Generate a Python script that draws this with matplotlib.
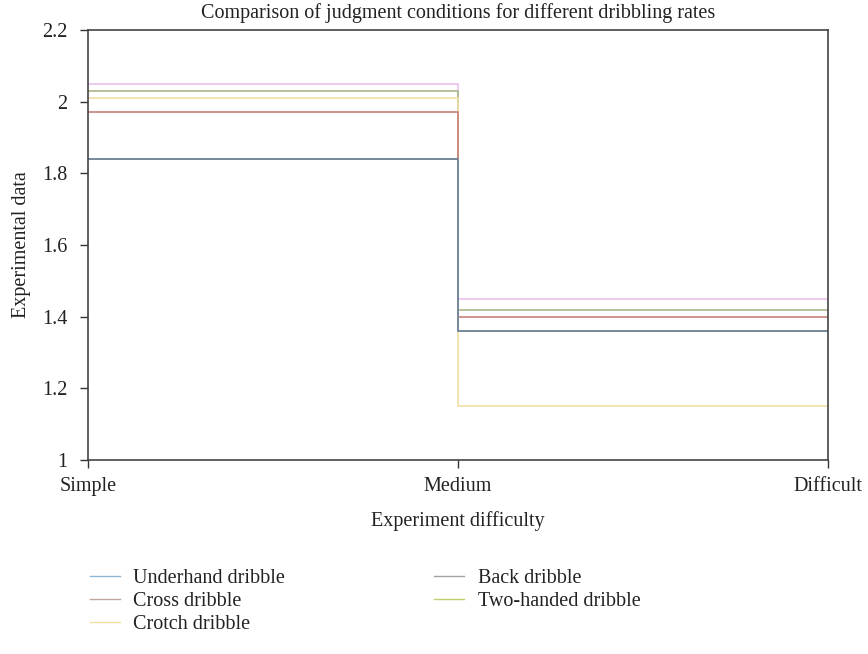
import matplotlib
matplotlib.use('Agg')
import matplotlib.pyplot as plt

plt.rcParams['font.family'] = ['Liberation Serif', 'DejaVu Serif']

levels = ['Simple', 'Medium', 'Difficult']
underhand = [1.84, 1.36, 1.36]
cross = [1.97, 1.40, 1.40]
crotch = [2.01, 1.15, 1.15]
back = [1.84, 1.36, 1.36]
two_handed = [2.03, 1.42, 1.42]
other = [2.05, 1.45, 1.45]

fs = 14.5

fig = plt.figure(figsize=(8.68, 6.54), dpi=100)
ax = fig.add_axes([0.1014, 0.2966, 0.852, 0.6575])

x = range(len(levels))
ax.step(x, other, where='post', color='#ecc0ec', lw=1.2)
ax.step(x, two_handed, where='post', color='#a8b888', lw=1.2)
ax.step(x, crotch, where='post', color='#f2dfa6', lw=1.2)
ax.step(x, cross, where='post', color='#c8807a', lw=1.2)
ax.step(x, underhand, where='post', color='#8fb8d8', lw=1.2)
ax.step(x, back, where='post', color='#708090', lw=1.2)

ax.set_xlim(0, 2)
ax.set_ylim(1, 2.2)
ax.set_xticks(list(x))
ax.set_xticklabels(levels, fontsize=fs)
ax.set_yticks([1, 1.2, 1.4, 1.6, 1.8, 2, 2.2])
ax.set_yticklabels(['1', '1.2', '1.4', '1.6', '1.8', '2', '2.2'], fontsize=fs)
ax.tick_params(direction='out', length=6, width=1, colors='#333333', labelcolor='#222222')
ax.tick_params(axis='y', pad=9)
ax.tick_params(axis='x', pad=6)
for s in ax.spines.values():
    s.set_color('#444444')
    s.set_linewidth(1.2)

ax.set_title('Comparison of judgment conditions for different dribbling rates', fontsize=fs, pad=8.5, color='#222222')
ax.set_xlabel('Experiment difficulty', fontsize=fs, color='#222222')
ax.set_ylabel('Experimental data', fontsize=fs, color='#222222')
ax.xaxis.set_label_coords(0.5, -0.118)
ax.yaxis.set_label_coords(-0.077, 0.5)

handles = [
    plt.Line2D([], [], color='#8fb8d8', lw=1),
    plt.Line2D([], [], color='#c0a8a0', lw=1),
    plt.Line2D([], [], color='#f0e0a0', lw=1),
    plt.Line2D([], [], color='#a8a0a8', lw=1),
    plt.Line2D([], [], color='#c0d070', lw=1),
]
names = ['Underhand dribble', 'Cross dribble', 'Crotch dribble', 'Back dribble', 'Two-handed dribble']
leg = fig.legend(handles, names, ncol=2, frameon=False, fontsize=fs, loc='upper left',
                 bbox_to_anchor=(0.1037, 0.13), handlelength=1.5, columnspacing=7.4,
                 labelspacing=0.2, handletextpad=0.65, borderaxespad=0, borderpad=0)
for t in leg.get_texts():
    t.set_color('#222222')

fig.savefig('out.png', dpi=100)
